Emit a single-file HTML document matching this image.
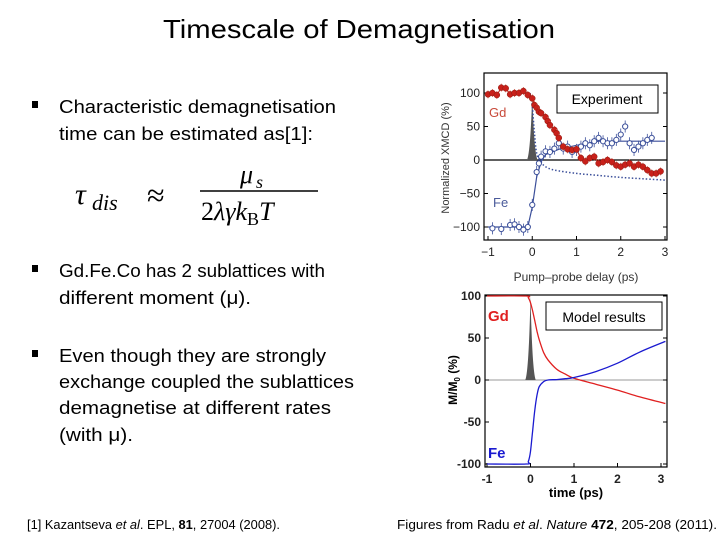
<!DOCTYPE html>
<html><head><meta charset="utf-8"><style>
html,body{margin:0;padding:0;background:#fff;}
svg{display:block;font-family:"Liberation Sans",sans-serif;}
</style></head><body>
<svg width="720" height="540" viewBox="0 0 720 540">
<text x="163" y="38" font-size="26" textLength="392" lengthAdjust="spacingAndGlyphs">Timescale of Demagnetisation</text>
<g font-size="18">
<rect x="32" y="101" width="6" height="7" fill="#000"/>
<text x="59" y="113" textLength="277" lengthAdjust="spacingAndGlyphs">Characteristic demagnetisation</text>
<text x="59" y="140" textLength="254" lengthAdjust="spacingAndGlyphs">time can be estimated as[1]:</text>
<rect x="32" y="265" width="6" height="7" fill="#000"/>
<text x="59" y="277" textLength="266" lengthAdjust="spacingAndGlyphs">Gd.Fe.Co has 2 sublattices with</text>
<text x="59" y="304" textLength="192" lengthAdjust="spacingAndGlyphs">different moment (μ).</text>
<rect x="32" y="350" width="6" height="7" fill="#000"/>
<text x="59" y="362" textLength="267" lengthAdjust="spacingAndGlyphs">Even though they are strongly</text>
<text x="59" y="388" textLength="295" lengthAdjust="spacingAndGlyphs">exchange coupled the sublattices</text>
<text x="59" y="414" textLength="272" lengthAdjust="spacingAndGlyphs">demagnetise at different rates</text>
<text x="59" y="441" textLength="74" lengthAdjust="spacingAndGlyphs">(with μ).</text>
</g>
<g font-family="'Liberation Serif',serif">
<text x="75" y="204" font-size="30" font-style="italic">τ</text>
<text x="92" y="210" font-size="22" font-style="italic">dis</text>
<text x="147" y="206" font-size="32">≈</text>
<text x="240" y="183" font-size="26" font-style="italic">μ</text>
<text x="256" y="188" font-size="18" font-style="italic">s</text>
<line x1="200" y1="191" x2="318" y2="191" stroke="#000" stroke-width="1.5"/>
<text x="201" y="220" font-size="26"><tspan>2</tspan><tspan font-style="italic">λγk</tspan><tspan font-size="18" dy="5">B</tspan><tspan font-style="italic" dy="-5">T</tspan></text>
</g>
<text x="27" y="529" font-size="13" textLength="253" lengthAdjust="spacingAndGlyphs">[1] Kazantseva <tspan font-style="italic">et al</tspan>. EPL, <tspan font-weight="bold">81</tspan>, 27004 (2008).</text>
<text x="397" y="529" font-size="13" textLength="320" lengthAdjust="spacingAndGlyphs">Figures from Radu <tspan font-style="italic">et al</tspan>. <tspan font-style="italic">Nature</tspan> <tspan font-weight="bold">472</tspan>, 205-208 (2011).</text>
<g id="topChart"></g>
<g id="botChart"></g>
<g font-family="'Liberation Sans',sans-serif">
<text x="489" y="117" font-size="13" fill="#c84a3a">Gd</text>
<text x="493" y="207" font-size="13" fill="#4a5a9a">Fe</text>
<text transform="translate(449 158) rotate(-90)" font-size="11" text-anchor="middle" fill="#333">Normalized XMCD (%)</text>
<text x="576" y="281" font-size="12" text-anchor="middle" fill="#333">Pump–probe delay (ps)</text>
<rect x="557" y="85" width="101" height="28" fill="#fff" stroke="#000"/>
<text x="607" y="104" font-size="14" text-anchor="middle">Experiment</text>
<text x="488" y="321" font-size="15" font-weight="bold" fill="#e02020">Gd</text>
<text x="488" y="458" font-size="15" font-weight="bold" fill="#1a1ad0">Fe</text>
<text transform="translate(457 380) rotate(-90)" font-size="12" font-weight="bold" text-anchor="middle">M/M<tspan font-size="8" dy="3">0</tspan><tspan dy="-3"> (%)</tspan></text>
<text x="576" y="497" font-size="13" font-weight="bold" text-anchor="middle">time (ps)</text>
<rect x="546" y="302" width="116" height="28" fill="#fff" stroke="#000"/>
<text x="604" y="322" font-size="14" text-anchor="middle">Model results</text>
</g>
</svg>
<script>
const NS="http://www.w3.org/2000/svg";
const gdT=[-1,-0.9,-0.8,-0.7,-0.6,-0.5,-0.4,-0.3,-0.2,-0.1,0,0.05,0.1,0.15,0.2,0.3,0.35,0.4,0.5,0.55,0.6,0.7,0.8,0.9,1.0,1.1,1.2,1.3,1.4,1.5,1.6,1.7,1.8,1.9,2.0,2.1,2.2,2.3,2.4,2.5,2.6,2.7,2.8,2.9];
const gdV=[98,100,97,108,107,98,100,100,103,97,92,82,78,72,70,64,58,52,45,40,33,20,16,15,16,3,-2,3,5,-5,-3,0,-3,-8,-10,-7,-5,-10,-7,-10,-15,-20,-20,-17];
const feT=[-0.9,-0.7,-0.5,-0.4,-0.3,-0.2,-0.1,0,0.1,0.15,0.2,0.3,0.4,0.5,0.6,0.7,0.8,0.9,1.0,1.1,1.2,1.3,1.4,1.5,1.6,1.7,1.8,1.9,2.0,2.1,2.2,2.3,2.4,2.5,2.6,2.7];
const feV=[-102,-103,-97,-96,-100,-104,-100,-67,-18,-5,5,13,12,17,25,17,20,12,15,20,25,22,28,33,28,25,25,30,38,50,25,15,20,25,30,33];
const feFitT=[-1,-0.1,0,0.1,0.2,0.3,0.6,1.0,1.5,3.0];
const feFitV=[-100,-100,-70,-25,-3,8,16,22,28,28];
const dotT=[-0.05,0,0.05,0.1,0.2,0.3,0.5,1,1.5,2,2.5,3];
const dotV=[100,80,40,10,-3,-10,-15,-20,-23,-26,-28,-30];
const mT=[-1,-0.1,-0.05,0,0.05,0.1,0.15,0.2,0.3,0.4,0.6,0.8,1,1.5,2,2.5,3.1];
const mGd=[100,100,98,92,82,70,58,48,33,24,13,7,2,-5,-12,-20,-28];
const mFe=[-100,-100,-97,-85,-60,-35,-18,-8,-2,0,0.5,1.5,3,10,20,33,46];
const xTicks=[-1,0,1,2,3];
const yTicks=[100,50,0,-50,-100];

function el(p,tag,a){const e=document.createElementNS(NS,tag);for(const k in a)e.setAttribute(k,a[k]);p.appendChild(e);return e;}

function chart(g,o){
  const X=t=>o.x0+(t+1)*(o.x3-o.x0)/4, Y=v=>o.y0-v*(o.y0-o.ym)/100;
  const box=el(g,'rect',{x:o.bx,y:o.by,width:o.bw,height:o.bh,fill:'none',stroke:'#000','stroke-width':1.2});
  
  
  const z=el(g,'line',{x1:o.bx,x2:o.bx+o.bw,y1:Y(0),y2:Y(0),stroke:o.zc,'stroke-width':o.zw});
  
  
  xTicks.forEach(t=>{
    el(g,'line',{x1:X(t),x2:X(t),y1:o.by+o.bh,y2:o.by+o.bh-4,stroke:'#000'});
    const tx=el(g,'text',{x:X(t),y:o.by+o.bh+16,'font-size':o.fs,'text-anchor':'middle','font-weight':o.fw,fill:'#222'});
    tx.textContent=(t<0?(o.bold?'-':'\u2212'):'')+Math.abs(t);
    
    
  });
  yTicks.forEach(v=>{
    el(g,'line',{x1:o.bx,x2:o.bx+4,y1:Y(v),y2:Y(v),stroke:'#000'});
    el(g,'line',{x1:o.bx+o.bw,x2:o.bx+o.bw-4,y1:Y(v),y2:Y(v),stroke:'#000'});
    const tx=el(g,'text',{x:o.bx-4,y:Y(v)+4,'font-size':o.fs,'text-anchor':'end','font-weight':o.fw,fill:'#222'});
    tx.textContent=(v<0?(o.bold?'-':'\u2212'):'')+Math.abs(v);
    
    
  });
  const p=el(g,'path',{d:`M${X(-0.12)} ${Y(0)} Q${X(-0.04)} ${Y(10)} ${X(0)} ${Y(100)} Q${X(0.04)} ${Y(10)} ${X(0.12)} ${Y(0)}Z`,fill:'#555'});
  
  
  return {X,Y};
}
function line(g,X,Y,ts,vs,a,name,smooth){
  const P=ts.map((t,i)=>[X(t),Y(vs[i])]);
  let d='M'+P[0][0].toFixed(1)+' '+P[0][1].toFixed(1);
  for(let i=1;i<P.length;i++){
    if(!smooth){d+='L'+P[i][0].toFixed(1)+' '+P[i][1].toFixed(1);continue;}
    const p0=P[i-2]||P[i-1],p1=P[i-1],p2=P[i],p3=P[i+1]||P[i];
    const c1=[p1[0]+(p2[0]-p0[0])/6,p1[1]+(p2[1]-p0[1])/6],c2=[p2[0]-(p3[0]-p1[0])/6,p2[1]-(p3[1]-p1[1])/6];
    d+=`C${c1[0].toFixed(1)} ${c1[1].toFixed(1)} ${c2[0].toFixed(1)} ${c2[1].toFixed(1)} ${p2[0].toFixed(1)} ${p2[1].toFixed(1)}`;
  }
  const l=el(g,'path',Object.assign({d,fill:'none'},a));
  
  
}

const topG=document.getElementById('topChart');
const A=chart(topG,{bx:484,by:73,bw:183,bh:167,x0:488,x3:665,y0:160,ym:93,fs:12,fw:'normal',zc:'#000',zw:1.2,bold:false});
line(topG,A.X,A.Y,dotT,dotV,{stroke:'#3b4f9a','stroke-width':1.5,'stroke-dasharray':'1.5,2'},'fe-dotted-curve',true);
line(topG,A.X,A.Y,feFitT,feFitV,{stroke:'#3b4f9a','stroke-width':1.2},'fe-fit-line',false);
line(topG,A.X,A.Y,gdT,gdV,{stroke:'#c8302a','stroke-width':1.2},'gd-fit-line',false);
feT.forEach((t,i)=>{
  el(topG,'line',{x1:A.X(t),x2:A.X(t),y1:A.Y(feV[i]+9),y2:A.Y(feV[i]-9),stroke:'#3b4f9a','stroke-width':0.8});
  const c=el(topG,'circle',{cx:A.X(t),cy:A.Y(feV[i]),r:2.6,fill:'#fff',stroke:'#3b4f9a','stroke-width':1});
  
  
});
gdT.forEach((t,i)=>{
  el(topG,'line',{x1:A.X(t),x2:A.X(t),y1:A.Y(gdV[i]+6),y2:A.Y(gdV[i]-6),stroke:'#e06a5a','stroke-width':0.8});
  const c=el(topG,'circle',{cx:A.X(t),cy:A.Y(gdV[i]),r:3,fill:'#c8201a',stroke:'#8a1a10','stroke-width':0.5});
  
  
});
const botG=document.getElementById('botChart');
const B=chart(botG,{bx:485,by:295,bw:182,bh:172,x0:487,x3:661,y0:380,ym:296,fs:12,fw:'bold',zc:'#999',zw:1,bold:true});
line(botG,B.X,B.Y,mT,mGd,{stroke:'#e02020','stroke-width':1.3},'gd-model-curve',true);
line(botG,B.X,B.Y,mT,mFe,{stroke:'#1a1ad0','stroke-width':1.3},'fe-model-curve',true);
</script>
</body></html>
